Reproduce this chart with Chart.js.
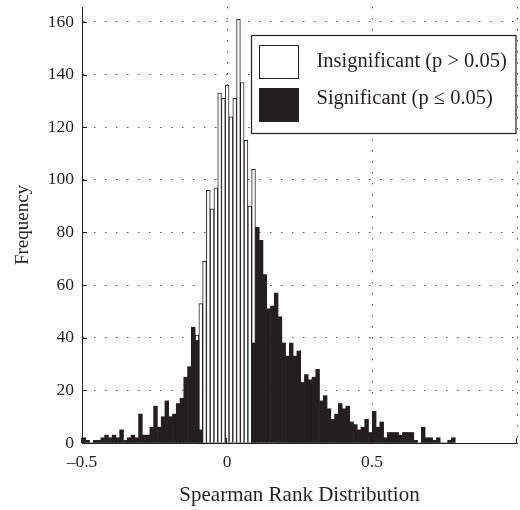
<!DOCTYPE html>
<html><head><meta charset="utf-8">
<script src="https://cdn.jsdelivr.net/npm/chart.js@4.4.1/dist/chart.umd.min.js"></script>
<style>html,body{margin:0;padding:0;background:#fff}canvas{display:block}</style>
</head><body>
<canvas id="c" width="520" height="510"></canvas>
<script>
// Histogram bins (Spearman rank correlation), 99 bins of equal width
const binStart = -0.5;
const binWidth = 0.013;

const significant = [
  2,1,0,1,1,2,3,2,3,2,
  5,1,2,3,2,11,3,3,6,14,
  6,10,16,10,11,15,17,25,29,44,
  39,5,0,0,0,0,0,0,0,0,
  0,0,0,0,0,38,82,77,64,51,
  52,57,48,38,33,38,33,35,23,26,
  24,25,28,16,18,13,9,11,15,13,
  14,8,7,5,6,9,4,12,6,8,
  2,4,4,4,3,4,4,4,1,0,
  6,2,2,1,2,0,0,1,2
];
const insignificant = [
  0,0,0,0,0,0,0,0,0,0,
  0,0,0,0,0,0,0,0,0,0,
  0,0,0,0,0,0,0,0,0,0,
  41,53,69,96,89,97,133,131,136,124,
  131,161,137,115,90,104,0,0,0,0,
  0,0,0,0,0,0,0,0,0,0,
  0,0,0,0,0,0,0,0,0,0,
  0,0,0,0,0,0,0,0,0,0,
  0,0,0,0,0,0,0,0,0,0,
  0,0,0,0,0,0,0,0,0
];
const xTicks = [-0.5, 0, 0.5, 1.0];
const xTickLabels = ['\u20130.5', '0', '0.5', ''];
const yTicks = [0, 20, 40, 60, 80, 100, 120, 140, 160];
const legendLabels = ['Insignificant (p > 0.05)', 'Significant (p \u2264 0.05)'];
const xTitle = 'Spearman Rank Distribution';
const yTitle = 'Frequency';

const binCenters = significant.map((_, i) => +(binStart + binWidth * (i + 0.5)).toFixed(5));

const INK = '#231f20';
const SERIF = "'Liberation Serif', 'Times New Roman', Times, serif";

const decor = {
  id: 'decor',
  afterDraw(chart) {
    const ctx = chart.ctx;
    const {left, right, top, bottom} = chart.chartArea;
    const xs = chart.scales.x, ys = chart.scales.y;
    ctx.save();
    ctx.strokeStyle = INK;
    ctx.lineWidth = 1;
    ctx.beginPath();
    yTicks.forEach(v => {
      const y = Math.round(ys.getPixelForValue(v)) + 0.5;
      ctx.moveTo(left, y); ctx.lineTo(left + 5, y);
    });
    xTicks.forEach(v => {
      const x = Math.round(xs.getPixelForValue(v)) - 0.5;
      ctx.moveTo(x, bottom); ctx.lineTo(x, bottom - 5);
    });
    ctx.stroke();

    // legend box
    const bx = left + 169.5, by = top + 28.5, bw = right - 1 - bx, bh = 98;
    ctx.fillStyle = '#fff';
    ctx.fillRect(bx, by, bw, bh);
    ctx.strokeStyle = INK;
    ctx.lineWidth = 1.2;
    ctx.strokeRect(bx, by, bw, bh);
    // swatches
    ctx.lineWidth = 1;
    ctx.fillStyle = '#fff';
    ctx.fillRect(bx + 8, by + 10, 39, 33);
    ctx.strokeRect(bx + 8, by + 10, 39, 33);
    ctx.fillStyle = INK;
    ctx.fillRect(bx + 7.5, by + 52.5, 40, 34);
    // labels
    ctx.fillStyle = INK;
    ctx.font = "20.5px " + SERIF;
    ctx.textAlign = 'left';
    ctx.textBaseline = 'alphabetic';
    ctx.fillText(legendLabels[0], bx + 65, by + 31);
    ctx.fillText(legendLabels[1], bx + 65, by + 68);
    ctx.restore();
  }
};

new Chart(document.getElementById('c'), {
  type: 'bar',
  data: {
    datasets: [
      {
        label: legendLabels[0],
        data: binCenters.map((x, i) => ({x, y: insignificant[i]})),
        backgroundColor: '#ffffff',
        borderColor: INK,
        borderWidth: 1,
        order: 2,
        grouped: false,
        barPercentage: 1,
        categoryPercentage: 1
      },
      {
        label: legendLabels[1],
        data: binCenters.map((x, i) => ({x, y: significant[i]})),
        backgroundColor: INK,
        borderWidth: 0,
        order: 1,
        grouped: false,
        barPercentage: 1,
        categoryPercentage: 1
      }
    ]
  },
  options: {
    responsive: false,
    animation: false,
    layout: {padding: {top: 7, right: 3, left: 0, bottom: 0}},
    plugins: {legend: {display: false}, tooltip: {enabled: false}},
    scales: {
      x: {
        type: 'linear',
        min: -0.5, max: 1.0,
        offset: false,
        grid: {offset: false, color: '#555', lineWidth: 1, drawTicks: false},
        border: {display: true, color: INK, width: 1, dash: [1.5, 9.5]},
        afterBuildTicks: s => { s.ticks = xTicks.map(v => ({value: v})); },
        ticks: {
          padding: 9, color: INK, autoSkip: false, maxRotation: 0, minRotation: 0,
          font: {family: SERIF, size: 17.5},
          callback: (v, i) => xTickLabels[i]
        },
        title: {display: true, text: xTitle, color: INK, font: {family: SERIF, size: 21}, padding: {top: 0, bottom: 2}},
        afterFit: s => { s.height = 67; s.paddingLeft = 0; s.paddingRight = 0; }
      },
      y: {
        min: 0, max: 165.7,
        grid: {color: '#555', lineWidth: 1, drawTicks: false},
        border: {display: true, color: INK, width: 1, dash: [1.5, 9.5]},
        afterBuildTicks: s => { s.ticks = yTicks.map(v => ({value: v})); },
        ticks: {padding: 8, color: INK, font: {family: SERIF, size: 17.5}, includeBounds: false},
        title: {display: true, text: yTitle, color: INK, font: {family: SERIF, size: 19}, padding: {top: 12, bottom: 0}},
        afterFit: s => { s.width = 82; s.paddingTop = 0; s.paddingBottom = 0; }
      }
    }
  },
  plugins: [decor]
});
</script>
</body></html>
